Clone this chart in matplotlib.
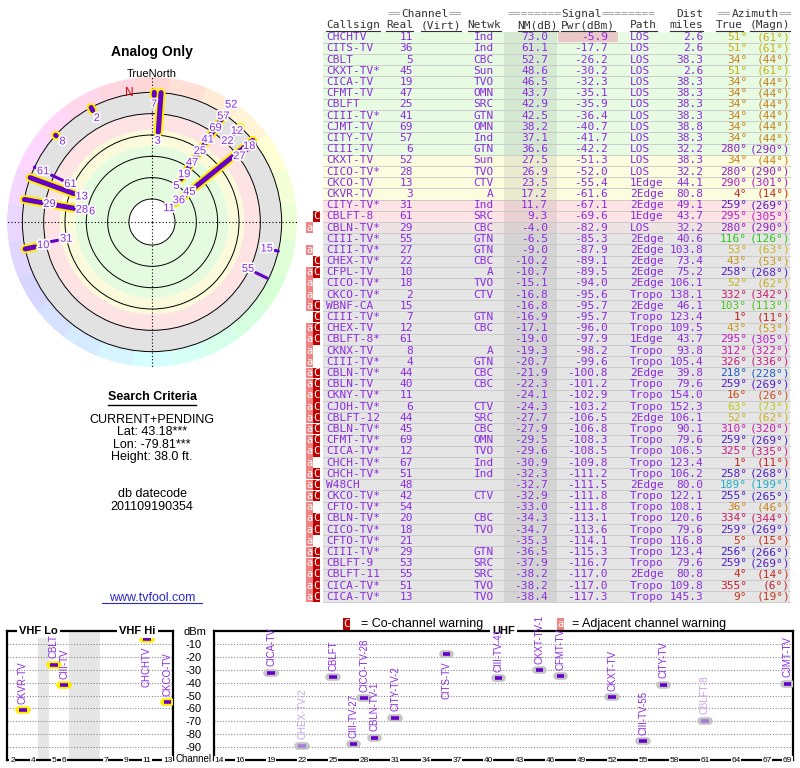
import numpy as np
import matplotlib
matplotlib.use("Agg")
import matplotlib.pyplot as plt
import matplotlib.patheffects as pe
from matplotlib.colors import hsv_to_rgb
from matplotlib.patches import Rectangle

# ---- station table ----
callsign = ["CHCHTV", "CITS-TV", "CBLT", "CKXT-TV*", "CICA-TV", "CFMT-TV", "CBLFT", "CIII-TV*",
            "CJMT-TV", "CITY-TV", "CIII-TV", "CKXT-TV", "CICO-TV*", "CKCO-TV", "CKVR-TV", "CITY-TV*",
            "CBLFT-8", "CBLN-TV*", "CIII-TV*", "CIII-TV*", "CHEX-TV*", "CFPL-TV", "CICO-TV*", "CKCO-TV*",
            "WBNF-CA", "CIII-TV*", "CHEX-TV", "CBLFT-8*", "CKNX-TV", "CIII-TV*", "CBLN-TV*", "CBLN-TV",
            "CKNY-TV*", "CJOH-TV*", "CBLFT-12", "CBLN-TV*", "CFMT-TV*", "CICA-TV*", "CHCH-TV*", "CHCH-TV*",
            "W48CH", "CKCO-TV*", "CFTO-TV*", "CBLN-TV*", "CICO-TV*", "CFTO-TV*", "CIII-TV*", "CBLFT-9",
            "CBLFT-11", "CICA-TV*", "CICA-TV*"]
real = [11, 36, 5, 45, 19, 47, 25, 41, 69, 57, 6, 52, 28, 13, 3, 31, 61, 29, 55, 27, 22, 10, 18, 2, 15,
        7, 12, 61, 8, 4, 44, 40, 11, 6, 44, 45, 69, 12, 67, 51, 48, 42, 54, 20, 18, 21, 29, 53, 55, 51, 13]
netwk = ["Ind", "Ind", "CBC", "Sun", "TVO", "OMN", "SRC", "GTN", "OMN", "Ind", "GTN", "Sun", "TVO", "CTV",
         "A", "Ind", "SRC", "CBC", "GTN", "GTN", "CBC", "A", "TVO", "CTV", "", "GTN", "CBC", "", "A", "GTN",
         "CBC", "CBC", "", "CTV", "SRC", "CBC", "OMN", "TVO", "Ind", "Ind", "", "CTV", "", "CBC", "TVO", "",
         "GTN", "SRC", "SRC", "TVO", "TVO"]
nm = [73.0, 61.1, 52.7, 48.6, 46.5, 43.7, 42.9, 42.5, 38.2, 37.1, 36.6, 27.5, 26.9, 23.5, 17.2, 11.7,
      9.3, -4.0, -6.5, -9.0, -10.2, -10.7, -15.1, -16.8, -16.8, -16.9, -17.1, -19.0, -19.3, -20.7, -21.9,
      -22.3, -24.1, -24.3, -27.7, -27.9, -29.5, -29.6, -30.9, -32.3, -32.7, -32.9, -33.0, -34.3, -34.7,
      -35.3, -36.5, -37.9, -38.2, -38.2, -38.4]
pwr = [-5.9, -17.7, -26.2, -30.2, -32.3, -35.1, -35.9, -36.4, -40.7, -41.7, -42.2, -51.3, -52.0, -55.4,
       -61.6, -67.1, -69.6, -82.9, -85.3, -87.9, -89.1, -89.5, -94.0, -95.6, -95.7, -95.7, -96.0, -97.9,
       -98.2, -99.6, -100.8, -101.2, -102.9, -103.2, -106.5, -106.8, -108.3, -108.5, -109.8, -111.2,
       -111.5, -111.8, -111.8, -113.1, -113.6, -114.1, -115.3, -116.7, -117.0, -117.0, -117.3]
path = ["LOS", "LOS", "LOS", "LOS", "LOS", "LOS", "LOS", "LOS", "LOS", "LOS", "LOS", "LOS", "LOS",
        "1Edge", "2Edge", "2Edge", "1Edge", "LOS", "2Edge", "2Edge", "2Edge", "2Edge", "2Edge", "Tropo",
        "2Edge", "Tropo", "Tropo", "1Edge", "Tropo", "Tropo", "2Edge", "Tropo", "Tropo", "Tropo", "2Edge",
        "Tropo", "Tropo", "Tropo", "Tropo", "Tropo", "2Edge", "Tropo", "Tropo", "Tropo", "Tropo", "Tropo",
        "Tropo", "Tropo", "2Edge", "Tropo", "Tropo"]
dist = [2.6, 2.6, 38.3, 2.6, 38.3, 38.3, 38.3, 38.3, 38.8, 38.3, 32.2, 38.3, 32.2, 44.1, 80.8, 49.1,
        43.7, 32.2, 40.6, 103.8, 73.4, 75.2, 106.1, 138.1, 46.1, 123.4, 109.5, 43.7, 93.8, 105.4, 39.8,
        79.6, 154.0, 152.3, 106.1, 90.1, 79.6, 106.5, 123.4, 106.2, 80.0, 122.1, 108.1, 120.6, 79.6,
        116.8, 123.4, 79.6, 80.8, 109.8, 145.3]
az_true = [51, 51, 34, 51, 34, 34, 34, 34, 34, 34, 280, 34, 280, 290, 4, 259, 295, 280, 116, 53, 43,
           258, 52, 332, 103, 1, 43, 295, 312, 326, 218, 259, 16, 63, 52, 310, 259, 325, 1, 258, 189,
           255, 36, 334, 259, 5, 256, 259, 4, 355, 9]
az_magn = [61, 61, 44, 61, 44, 44, 44, 44, 44, 44, 290, 44, 290, 301, 14, 269, 305, 290, 126, 63, 53,
           268, 62, 342, 113, 11, 53, 305, 322, 336, 228, 269, 26, 73, 62, 320, 269, 335, 11, 268, 199,
           265, 46, 344, 269, 15, 266, 269, 14, 6, 19]
flags = [""] * 16 + ["C", "a", "", "a", "C", "aC", "a", "a", "aC", "C", "aC", "aC", "a", "a"] \
        + ["aC"] * 8 + ["a"] + ["aC"] * 3 + ["a"] + ["aC"] * 2 + ["a"] + ["aC"] * 5

# names used in the channel charts (first rows of the table)
chart_names = ["CHCHTV", "CITS-TV", "CBLT", "CKXT-TV-1", "CICA-TV", "CFMT-TV", "CBLFT", "CIII-TV-41",
               "CJMT-TV", "CITY-TV", "CIII-TV", "CKXT-TV", "CICO-TV-28", "CKCO-TV", "CKVR-TV",
               "CITY-TV-2", "CBLFT-8", "CBLN-TV-1", "CIII-TV-55", "CIII-TV-27", "CHEX-TV-2"]
vhf_ticks = [2, 4, 5, 6, 7, 9, 11, 13]
uhf_ticks = [14, 16, 19, 22, 25, 28, 31, 34, 37, 40, 43, 46, 49, 52, 55, 58, 61, 64, 67, 69]
dbm_ticks = [-10, -20, -30, -40, -50, -60, -70, -80, -90]
ring_db = [80, 60, 40, 20, 0, -20]

plt.rcParams['font.family'] = ['Liberation Sans', 'DejaVu Sans']
plt.rcParams['axes.unicode_minus'] = False
MONO = 'DejaVu Sans Mono'
PURPLE = '#8a2be2'
SPOKE = '#6400c8'


def az_color(a):
    return hsv_to_rgb(((a % 360) / 360.0, 0.85, 0.78))


def row_color(v):
    if v >= 30:
        return '#e6fbe2'
    if v >= 15:
        return '#fcfcdf'
    if v >= 0:
        return '#fde3e3'
    if v > -5:
        return '#eee3e3'
    return '#e5e5e5'


def vhf_slot(ch):
    if ch <= 4:
        return ch - 2
    if ch <= 6:
        return ch - 1
    return ch + 2


fig = plt.figure(figsize=(8, 7.68), dpi=100)
bg = fig.add_axes([0, 0, 1, 1])
bg.set_xlim(0, 800)
bg.set_ylim(768, 0)
bg.axis('off')

# ---- table ----
CW = 6.69
ROW0, PITCH = 37.3, 11.19
n = len(callsign)
hdr = '#333333'
eq = '#9a9a9a'


def seg_text(x, y, parts):
    for s, c in parts:
        bg.text(x, y, s, family=MONO, fontsize=8, color=c, va='center', ha='left')
        x += len(s) * CW


seg_text(388, 14.3, [("==", eq), ("Channel", hdr), ("==", eq)])
seg_text(508, 14.3, [("========", eq), ("Signal", hdr), ("========", eq)])
seg_text(718, 14.3, [("==", eq), ("Azimuth", hdr), ("==", eq)])
bg.text(703, 14.3, "Dist", family=MONO, fontsize=8, color=hdr, va='center', ha='right')

heads = [("Callsign", 326, 'left'), ("Real", 413, 'right'), ("(Virt)", 461, 'right'),
         ("Netwk", 501, 'right'), ("NM(dB)", 558, 'right'), ("Pwr(dBm)", 615, 'right'),
         ("Path", 630, 'left'), ("miles", 703, 'right'), ("True", 743, 'right'), ("(Magn)", 790, 'right')]
for s, x, ha in heads:
    bg.text(x, 25.3, s, family=MONO, fontsize=8, color=hdr, va='center', ha=ha)
    x0 = x if ha == 'left' else x - len(s) * CW
    bg.plot([x0, x0 + len(s) * CW], [30.8, 30.8], color=hdr, lw=0.8)

for i in range(n):
    y = ROW0 + i * PITCH
    bg.add_patch(Rectangle((323, y - PITCH / 2), 467, PITCH, fc=row_color(nm[i]), ec='none', zorder=1))
    bg.plot([323, 790], [y + PITCH / 2] * 2, color='#c6c6c6', lw=0.6, zorder=2)
    if pwr[i] > -10:
        bg.add_patch(Rectangle((558, y - PITCH / 2 + 0.6), 60, PITCH - 1.2, fc='#ebc8c8', ec='none', zorder=1.6))
    kw = dict(family=MONO, fontsize=8, color=PURPLE, va='center', zorder=3)
    bg.text(326, y, callsign[i], ha='left', **kw)
    bg.text(413, y, str(real[i]), ha='right', **kw)
    bg.text(494, y, netwk[i], ha='right', **kw)
    bg.text(548, y, f"{nm[i]:.1f}", ha='right', **kw)
    bg.text(608, y, f"{pwr[i]:.1f}", ha='right', **kw)
    bg.text(630, y, path[i], ha='left', **kw)
    bg.text(703, y, f"{dist[i]:.1f}", ha='right', **kw)
    kw['color'] = az_color(az_true[i])
    bg.text(747, y, f"{az_true[i]}°", ha='right', **kw)
    bg.text(790, y, f"({az_magn[i]}°)", ha='right', **kw)
    if 'a' in flags[i]:
        bg.add_patch(Rectangle((306, y - 5.4), 7, 10.8, fc='#f08484', ec='none', zorder=2))
        bg.text(309.5, y, 'a', family=MONO, fontsize=7.5, color='white', ha='center', va='center', zorder=3)
    if 'C' in flags[i]:
        bg.add_patch(Rectangle((313, y - 5.4), 6.5, 10.8, fc='#c00000', ec='none', zorder=2))
        bg.text(316.3, y, 'C', family=MONO, fontsize=7.5, color='white', ha='center', va='center', zorder=3)

# darker NM column
bg.add_patch(Rectangle((504, ROW0 - PITCH / 2), 53, n * PITCH, fc='k', alpha=0.07, ec='none', zorder=1.5))

# ---- left text block ----
bg.text(152, 51.7, "Analog Only", fontsize=10, fontweight='bold', ha='center', va='center')
bg.text(152, 74.3, "TrueNorth", fontsize=8, ha='center', va='center')
bg.text(152, 397, "Search Criteria", fontsize=9, fontweight='bold', ha='center', va='center')
bg.plot([108, 196], [404.5, 404.5], color='k', lw=1)
for s, y in [("CURRENT+PENDING", 420), ("Lat: 43.18***", 432.4), ("Lon: -79.81***", 444.8),
             ("Height: 38.0 ft.", 457.2), ("db datecode", 494.3), ("201109190354", 506.7)]:
    bg.text(152, y, s, fontsize=9, ha='center', va='center')
bg.text(152, 598, "www.tvfool.com", fontsize=9, color='#2a2acc', ha='center', va='center')
bg.plot([102, 202], [603, 603], color='#2a2acc', lw=0.8)

# legend for warnings
bg.add_patch(Rectangle((343, 618), 7, 12, fc='#c00000', ec='none'))
bg.text(346.5, 624, 'C', family=MONO, fontsize=7.5, color='white', ha='center', va='center')
bg.text(361, 624, "= Co-channel warning", fontsize=9, ha='left', va='center')
bg.add_patch(Rectangle((557, 618), 7, 12, fc='#f08484', ec='none'))
bg.text(560.5, 624, 'a', family=MONO, fontsize=7.5, color='white', ha='center', va='center')
bg.text(572, 624, "= Adjacent channel warning", fontsize=9, ha='left', va='center')
bg.text(195, 632, "dBm", fontsize=8, ha='center', va='center')
bg.text(175.5, 759.5, "Channel", fontsize=7, ha='left', va='center')

# ---- polar plot ----
R_IN, R_OUT = 101.6, -34.4
pol = fig.add_axes([7 / 800, 401 / 768, 290 / 800, 290 / 768], projection='polar')
pol.set_theta_zero_location('N')
pol.set_theta_direction(-1)
pol.set_ylim(R_IN, R_OUT)
pol.set_facecolor('white')
pol.spines['polar'].set_visible(False)
for top, bot, c in [(80, 30, '#e4fbe0'), (30, 15, '#fbfbdc'), (15, 0, '#fde3e3'), (0, -20, '#e2e2e2')]:
    pol.bar(0, bot - top, width=2 * np.pi, bottom=top, color=c, lw=0, zorder=0.5)
sec = np.arange(0, 360, 15)
pol.bar(np.deg2rad(sec), R_OUT + 20, width=np.deg2rad(15), bottom=-20,
        color=[hsv_to_rgb((a / 360.0, 0.16, 1.0)) for a in sec], lw=0, zorder=0.5)
pol.set_yticks(ring_db)
pol.set_yticklabels([])
pol.set_xticks(np.deg2rad([0, 90, 180, 270]))
pol.set_xticklabels([])
pol.yaxis.grid(True, color='k', lw=0.7, ls='-')
pol.xaxis.grid(True, color='k', lw=0.8, ls=(0, (1, 2)))
pol.text(np.deg2rad(350), -21, 'N', color='#dd0000', fontsize=8.5, ha='center', va='center', zorder=5)

k = 145.0 / (R_IN - R_OUT)  # pixels per dB
placed = []
for i in range(n):
    if nm[i] < -20:
        continue
    th = np.deg2rad(az_true[i])
    vhf = real[i] <= 13
    end = -20 if vhf else max(nm[i] - 12, -20)
    if vhf:
        pol.plot([th, th], [nm[i], end], color='#ffee00', lw=6.5, solid_capstyle='round', zorder=3)
    pol.plot([th, th], [nm[i], end], color=SPOKE, lw=3.6 if vhf else 2.2,
             solid_capstyle='round', zorder=3.5)
    # label: just inside the tip, pushed outwards when it collides
    r = (R_IN - nm[i]) * k - 8.5
    while True:
        hits = [pr for (px, py, pr) in placed
                if np.hypot(r * np.sin(th) - px, r * np.cos(th) - py) < 9.5]
        if not hits:
            break
        r = max(hits) + 14
    placed.append((r * np.sin(th), r * np.cos(th), r))
    pol.text(th, R_IN - r / k, str(real[i]), fontsize=8, color=PURPLE, ha='center', va='center',
             zorder=6, path_effects=[pe.withStroke(linewidth=2.5, foreground='white')])

# ---- channel charts ----
ax_v = fig.add_axes([7.3 / 800, 8 / 768, 165.4 / 800, 129 / 768])
ax_u = fig.add_axes([214.3 / 800, 8 / 768, 578.5 / 800, 129 / 768])
ax_v.set_xlim(-0.5, 15.5)
ax_u.set_xlim(13.5, 69.5)
ax_v.axvspan(2.5, 3.5, color='#e6e6e6', lw=0, zorder=0.5)
ax_v.axvspan(5.5, 8.5, color='#e6e6e6', lw=0, zorder=0.5)
for ax in (ax_v, ax_u):
    ax.set_ylim(-100, 0)
    ax.set_yticks(dbm_ticks)
    ax.set_xticks([])
    ax.grid(axis='y', color='#8a8a8a', lw=0.8, ls=(0, (1, 1.5)))
    for sp in ax.spines.values():
        sp.set_linewidth(1.6)
    ax.tick_params(axis='y', length=0)
ax_v.yaxis.tick_right()
ax_v.tick_params(axis='y', labelright=True, labelleft=False, pad=9, labelsize=8)
ax_u.tick_params(axis='y', labelleft=False)

tbox = dict(fc='white', ec='none', pad=0.5)
for ch in vhf_ticks:
    ax_v.text(vhf_slot(ch), -100, str(ch), fontsize=6, ha='center', va='center', bbox=tbox,
              clip_on=False, zorder=5)
for ch in uhf_ticks:
    ax_u.text(ch, -100, str(ch), fontsize=6, ha='center', va='center', bbox=tbox, clip_on=False, zorder=5)
ttl = dict(fontsize=8, fontweight='bold', ha='center', va='center', clip_on=False, zorder=5,
           bbox=dict(fc='white', ec='none', pad=1.5))
ax_v.text(2.55, 0, "VHF Lo", **ttl)
ax_v.text(12.1, 0, "VHF Hi", **ttl)
ax_u.text(41.5, 0, "UHF", **ttl)

for i, name in enumerate(chart_names):
    ch, p = real[i], pwr[i]
    if ch <= 13:
        ax, x, halo = ax_v, vhf_slot(ch), '#ffee00'
    else:
        ax, x, halo = ax_u, ch, '#c4c4c4'
    faded = 'C' in flags[i]
    ax.plot([x - 0.36, x + 0.36], [p, p], color=halo, lw=5.5, solid_capstyle='round', zorder=3)
    ax.plot([x - 0.36, x + 0.36], [p, p], color='#a47ed8' if faded else SPOKE, lw=2.6,
            solid_capstyle='butt', zorder=4)
    tc = '#c8a4ee' if faded else PURPLE
    if p > -20:
        ax.text(x, p - 6, name, rotation=90, fontsize=7, color=tc, ha='center', va='top',
                clip_on=False, zorder=6)
    else:
        ax.text(x, p + 5, name, rotation=90, fontsize=7, color=tc, ha='center', va='bottom',
                clip_on=False, zorder=6)

fig.savefig("out.png", dpi=100)
